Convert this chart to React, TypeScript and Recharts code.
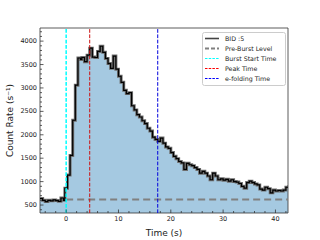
import {
  Area,
  ComposedChart,
  Line,
  ReferenceArea,
  ReferenceLine,
  XAxis,
  YAxis,
} from 'recharts';

// light curve, 0.5 s bins (rise around t=0 read a bit finer)
const time = [
  -5, -4.5, -4, -3.5, -3, -2.5, -2, -1.5, -1, -0.5, -0.25, 0.25, 0.75, 1.25, 1.75, 2.25, 2.75, 3, 3.5, 4,
  4.5, 5, 5.5, 6, 6.5, 7, 7.5, 8, 8.5, 9, 9.5, 10, 10.5, 11, 11.5, 12, 12.5, 13, 13.5, 14,
  14.5, 15, 15.5, 16, 16.5, 17, 17.5, 18, 18.5, 19, 19.5, 20, 20.5, 21, 21.5, 22, 22.5, 23, 23.5, 24,
  24.5, 25, 25.5, 26, 26.5, 27, 27.5, 28, 28.5, 29, 29.5, 30, 30.5, 31, 31.5, 32, 32.5, 33, 33.5, 34,
  34.5, 35, 35.5, 36, 36.5, 37, 37.5, 38, 38.5, 39, 39.5, 40, 40.5, 41, 41.5, 42, 42.5,
];
const countRate = [
  640, 600, 575, 600, 590, 610, 595, 580, 650, 600, 860, 1140, 1560, 2310, 3060, 3640, 3610, 3650, 3560, 3700,
  3850, 3660, 3650, 3780, 3890, 3760, 3630, 3520, 3420, 3680, 3400, 3250, 3120, 2950, 2880, 2900, 2620, 2530, 2430, 2380,
  2300, 2240, 2140, 2080, 1950, 1900, 1860, 1930, 1820, 1740, 1710, 1620, 1540, 1490, 1430, 1400, 1260, 1390, 1360, 1340,
  1300, 1260, 1180, 1220, 1180, 1120, 1040, 1180, 1120, 1040, 1060, 1030, 1050, 1010, 1040, 1000, 990, 960, 900, 860,
  980, 1010, 980, 950, 930, 840, 820, 880, 850, 760, 820, 800, 810, 800, 820, 880, 920,
];

const preBurstLevel = 620;
const burstStart = 0;
const peakTime = 4.5;
const eFoldingTime = 17.5;

const xDomain = [-5, 42.4];
const yDomain = [330, 4280];
const xTicks = [-4, -2, 0, 2, 4, 6, 8, 10, 12, 14, 16, 18, 20, 22, 24, 26, 28, 30, 32, 34, 36, 38, 40, 42];
const yTicks = [
  400, 500, 600, 700, 800, 900, 1000, 1100, 1200, 1300, 1400, 1500, 1600, 1700, 1800, 1900, 2000, 2100, 2200,
  2300, 2400, 2500, 2600, 2700, 2800, 2900, 3000, 3100, 3200, 3300, 3400, 3500, 3600, 3700, 3800, 3900, 4000,
  4100, 4200,
];

const legendItems = [
  { label: 'BID :5', color: '#444', dash: undefined, width: 1.6 },
  { label: 'Pre-Burst Level', color: '#808080', dash: '4 2', width: 2 },
  { label: 'Burst Start Time', color: '#00ffff', dash: '2.5 1.2', width: 1.2 },
  { label: 'Peak Time', color: '#ff0000', dash: '2.5 1.2', width: 1.2 },
  { label: 'e-folding Time', color: '#0000ff', dash: '2.5 1.2', width: 1.2 },
];

const FONT = '"DejaVu Sans", sans-serif';
const data = time.map((t, i) => ({ t, rate: countRate[i] }));

function XTick({ x, y, payload }: any) {
  const major = payload.value % 10 === 0;
  return (
    <g>
      <line x1={x} x2={x} y1={y} y2={y - (major ? 3.5 : 2)} stroke="#333" strokeWidth={0.8} />
      {major && (
        <text x={x} y={y + 7.5} textAnchor="middle" fontSize={6.5} fontFamily={FONT} fill="#222">
          {payload.value}
        </text>
      )}
    </g>
  );
}

function YTick({ x, y, payload }: any) {
  const major = payload.value % 500 === 0;
  return (
    <g>
      <line x1={x} x2={x + (major ? 3.5 : 2)} y1={y} y2={y} stroke="#333" strokeWidth={0.8} />
      {major && (
        <text x={x - 3} y={y} textAnchor="end" dominantBaseline="central" fontSize={6.5} fontFamily={FONT} fill="#222">
          {payload.value}
        </text>
      )}
    </g>
  );
}

function YLabel({ viewBox }: any) {
  const cx = viewBox.x + 10;
  const cy = viewBox.y + viewBox.height / 2;
  return (
    <text
      x={cx}
      y={cy}
      transform={`rotate(-90 ${cx} ${cy})`}
      textAnchor="middle"
      dominantBaseline="central"
      fontSize={9}
      fontFamily={FONT}
      fill="#222"
    >
      Count Rate (s⁻¹)
    </text>
  );
}

function XLabel({ viewBox }: any) {
  const cx = viewBox.x + viewBox.width / 2;
  return (
    <text x={cx} y={viewBox.y + 20} textAnchor="middle" dominantBaseline="central" fontSize={9} fontFamily={FONT} fill="#222">
      Time (s)
    </text>
  );
}

function LegendBox() {
  return (
    <svg width={84} height={54} style={{ position: 'absolute', left: 201.5, top: 31.5 }}>
      <rect x={0.5} y={0.5} width={83} height={53} rx={2} fill="rgba(255,255,255,0.8)" stroke="#ccc" strokeWidth={1} />
      {legendItems.map((item, i) => {
        const cy = 6.5 + i * 10;
        return (
          <g key={item.label}>
            <line
              x1={3}
              x2={17}
              y1={cy}
              y2={cy}
              stroke={item.color}
              strokeWidth={item.width}
              strokeDasharray={item.dash}
            />
            <text x={23} y={cy} dominantBaseline="central" fontSize={6.3} fontFamily={FONT} fill="#222">
              {item.label}
            </text>
          </g>
        );
      })}
    </svg>
  );
}

export default function App() {
  return (
    <div style={{ position: 'absolute', left: 0, top: 0, width: 320, height: 240, background: '#fff' }}>
      <ComposedChart width={320} height={240} data={data} margin={{ top: 28, right: 32, bottom: 0, left: 0 }}>
        <XAxis
          dataKey="t"
          type="number"
          domain={xDomain}
          allowDataOverflow
          ticks={xTicks}
          interval={0}
          tick={<XTick />}
          tickLine={false}
          tickSize={0}
          tickMargin={0}
          axisLine={false}
          height={27}
          label={<XLabel />}
        />
        <YAxis
          type="number"
          domain={yDomain}
          allowDataOverflow
          ticks={yTicks}
          interval={0}
          tick={<YTick />}
          tickLine={false}
          tickSize={0}
          tickMargin={0}
          axisLine={false}
          width={40}
          label={<YLabel />}
        />
        <Area
          dataKey="rate"
          type="stepAfter"
          fill="#a5c9e1"
          fillOpacity={1}
          stroke="none"
          isAnimationActive={false}
        />
        <Line dataKey="rate" type="stepAfter" stroke="#6e6e6e" strokeWidth={3} dot={false} isAnimationActive={false} />
        <Line dataKey="rate" type="stepAfter" stroke="#000" strokeWidth={1.2} dot={false} isAnimationActive={false} />
        <ReferenceLine
          segment={[
            { x: burstStart, y: preBurstLevel },
            { x: xDomain[1], y: preBurstLevel },
          ]}
          stroke="#808080"
          strokeWidth={2}
          strokeDasharray="7 4"
        />
        <ReferenceLine x={burstStart} stroke="#00ffff" strokeWidth={1.5} strokeDasharray="3.7 1.6" />
        <ReferenceLine x={peakTime} stroke="#cc1111" strokeWidth={1} strokeDasharray="3.7 1.6" />
        <ReferenceLine x={eFoldingTime} stroke="#0000dd" strokeWidth={1} strokeDasharray="3.7 1.6" />
        <ReferenceArea
          x1={xDomain[0]}
          x2={xDomain[1]}
          y1={yDomain[0]}
          y2={yDomain[1]}
          fill="none"
          fillOpacity={0}
          stroke="#333"
          strokeWidth={0.8}
          ifOverflow="visible"
        />
      </ComposedChart>
      <LegendBox />
    </div>
  );
}
